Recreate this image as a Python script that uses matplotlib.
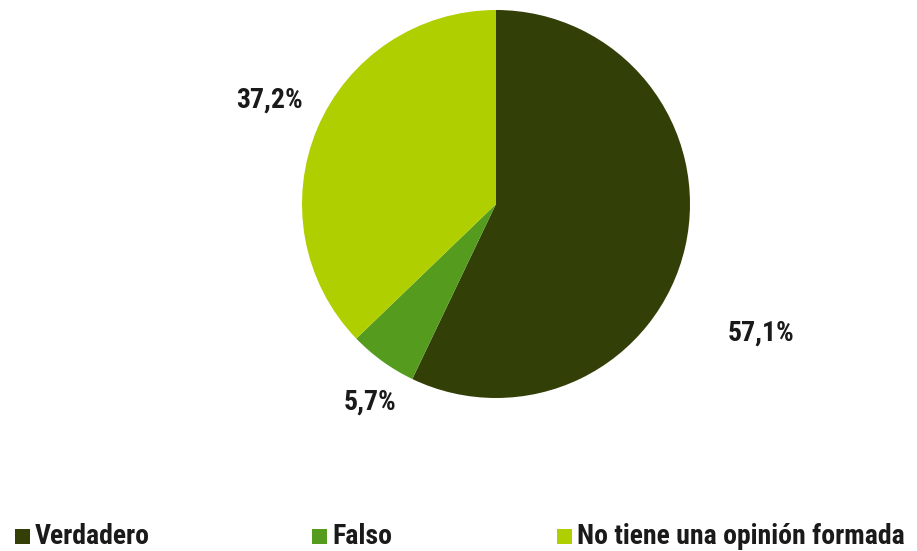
import matplotlib
matplotlib.use("Agg")
import matplotlib.pyplot as plt
from matplotlib.patches import Rectangle
from matplotlib import font_manager

categories = ["Verdadero", "Falso", "No tiene una opinión formada"]
values = [57.1, 5.7, 37.2]
labels = ["57,1%", "5,7%", "37,2%"]
colors = ["#323F06", "#559C1E", "#B0CF00"]

avail = {f.name for f in font_manager.fontManager.ttflist}
fam = [f for f in ["Liberation Sans Narrow", "Roboto Condensed", "Liberation Sans", "DejaVu Sans"] if f in avail]
plt.rcParams['font.family'] = fam

W, H = 917, 551
fig = plt.figure(figsize=(W / 100, H / 100), dpi=100)
cx, cy, r = 496, 204, 194
ax = fig.add_axes([(cx - r) / W, (H - cy - r) / H, 2 * r / W, 2 * r / H])
ax.pie(values, colors=colors, startangle=90, counterclock=False, radius=1,
       wedgeprops=dict(linewidth=0))
ax.set_xlim(-1, 1)
ax.set_ylim(-1, 1)
ax.set_aspect('equal')
ax.axis('off')

label_pos = [(1.366, -0.665), (-0.649, -1.021), (-1.165, 0.536)]
for lab, (x, y) in zip(labels, label_pos):
    ax.text(x, y, lab, ha='center', va='center', fontsize=20, fontweight='bold',
            color='#1a1a1a', clip_on=False)

# legend
leg_x = [15, 312, 557]
ly = 536
for xx, cat, col in zip(leg_x, categories, colors):
    fig.patches.append(Rectangle((xx / W, (H - ly - 7.5) / H), 15 / W, 15 / H,
                                 transform=fig.transFigure, color=col, linewidth=0))
    fig.text((xx + 20) / W, (H - ly) / H, cat, ha='left', va='center',
             fontsize=20, fontweight='bold', color='#1a1a1a')

fig.savefig("out.png", dpi=100)
